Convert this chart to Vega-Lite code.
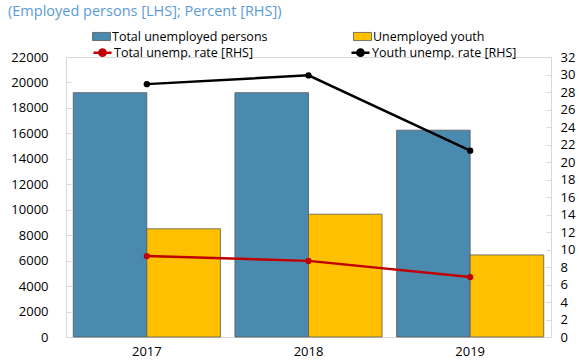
{
  "$schema": "https://vega.github.io/schema/vega-lite/v6.json",
  "width": 485,
  "height": 280,
  "autosize": {"type": "none"},
  "padding": {"left": 66, "top": 57, "right": 28, "bottom": 25},
  "config": {
    "font": "Open Sans",
    "view": {"stroke": "#D9D9D9", "strokeWidth": 1},
    "axis": {"labelFontSize": 13, "labelColor": "#000000", "grid": false, "title": null, "domainColor": "#D9D9D9", "tickColor": "#D9D9D9"},
    "legend": {"labelFontSize": 12.5, "labelColor": "#000000", "padding": 0, "rowPadding": 2, "title": null, "labelLimit": 300}
  },
  "title": {"text": "(Employed persons [LHS]; Percent [RHS])", "anchor": "start", "frame": "group", "dx": -58, "offset": 0, "dy": 6, "baseline": "bottom", "fontSize": 14.5, "fontWeight": "normal", "color": "#5B9BD5", "font": "Open Sans"},
  "layer": [
    {
      "data": {"values": [
        {"year": "2017", "series": "Total unemployed persons", "value": 19200},
        {"year": "2017", "series": "Unemployed youth", "value": 8500},
        {"year": "2018", "series": "Total unemployed persons", "value": 19200},
        {"year": "2018", "series": "Unemployed youth", "value": 9650},
        {"year": "2019", "series": "Total unemployed persons", "value": 16250},
        {"year": "2019", "series": "Unemployed youth", "value": 6450}
      ]},
      "mark": {"type": "bar", "stroke": "#595959", "strokeWidth": 0.8},
      "encoding": {
        "x": {"field": "year", "type": "nominal", "scale": {"paddingInner": 0.09, "paddingOuter": 0.045}, "axis": {"labelAngle": 0, "ticks": false, "labelPadding": 8, "domainColor": "#D9D9D9"}},
        "xOffset": {"field": "series", "type": "nominal", "sort": ["Total unemployed persons", "Unemployed youth"], "scale": {"paddingInner": 0, "paddingOuter": 0}},
        "y": {"field": "value", "type": "quantitative", "scale": {"domain": [0, 22000], "nice": false}, "axis": {"values": [0, 2000, 4000, 6000, 8000, 10000, 12000, 14000, 16000, 18000, 20000, 22000], "tickSize": -5, "labelPadding": 23, "domain": false, "format": "d"}},
        "color": {"field": "series", "type": "nominal", "sort": ["Total unemployed persons", "Unemployed youth"], "scale": {"domain": ["Total unemployed persons", "Unemployed youth"], "range": ["#4A8AAE", "#FFC000"]}, "legend": {"orient": "none", "legendX": 26, "legendY": -30, "direction": "horizontal", "columns": 2, "columnPadding": 83, "symbolType": "M-1,-0.45H1V0.45H-1Z", "symbolSize": 324, "symbolStrokeColor": "#595959", "symbolStrokeWidth": 0.8, "labelOffset": 1}}
      }
    },
    {
      "data": {"values": [
        {"year": "2017", "series": "Total unemp. rate [RHS]", "rate": 9.25},
        {"year": "2018", "series": "Total unemp. rate [RHS]", "rate": 8.7},
        {"year": "2019", "series": "Total unemp. rate [RHS]", "rate": 6.85},
        {"year": "2017", "series": "Youth unemp. rate [RHS]", "rate": 28.9},
        {"year": "2018", "series": "Youth unemp. rate [RHS]", "rate": 29.9},
        {"year": "2019", "series": "Youth unemp. rate [RHS]", "rate": 21.3}
      ]},
      "mark": {"type": "line", "strokeWidth": 2.5, "point": {"filled": true, "size": 40}},
      "encoding": {
        "x": {"field": "year", "type": "nominal"},
        "y": {"field": "rate", "type": "quantitative", "scale": {"domain": [0, 32], "nice": false}, "axis": {"orient": "right", "values": [0, 2, 4, 6, 8, 10, 12, 14, 16, 18, 20, 22, 24, 26, 28, 30, 32], "tickSize": -5, "labelPadding": 14, "domain": false}},
        "color": {"field": "series", "type": "nominal", "scale": {"domain": ["Total unemp. rate [RHS]", "Youth unemp. rate [RHS]"], "range": ["#C00000", "#000000"]}, "legend": {"orient": "none", "legendX": 26, "legendY": -15, "direction": "horizontal", "columns": 2, "columnPadding": 92, "symbolType": "M-1,0H1M-0.35,0A0.35,0.35 0 1 1 0.35,0A0.35,0.35 0 1 1 -0.35,0Z", "symbolSize": 324, "symbolStrokeWidth": 2.5, "labelOffset": 1, "encode": {"symbols": {"update": {"fill": {"signal": "datum.value === 'Total unemp. rate [RHS]' ? '#C00000' : '#000000'"}}}}}}
      }
    }
  ],
  "resolve": {"scale": {"y": "independent", "color": "independent"}, "legend": {"color": "independent"}}
}
